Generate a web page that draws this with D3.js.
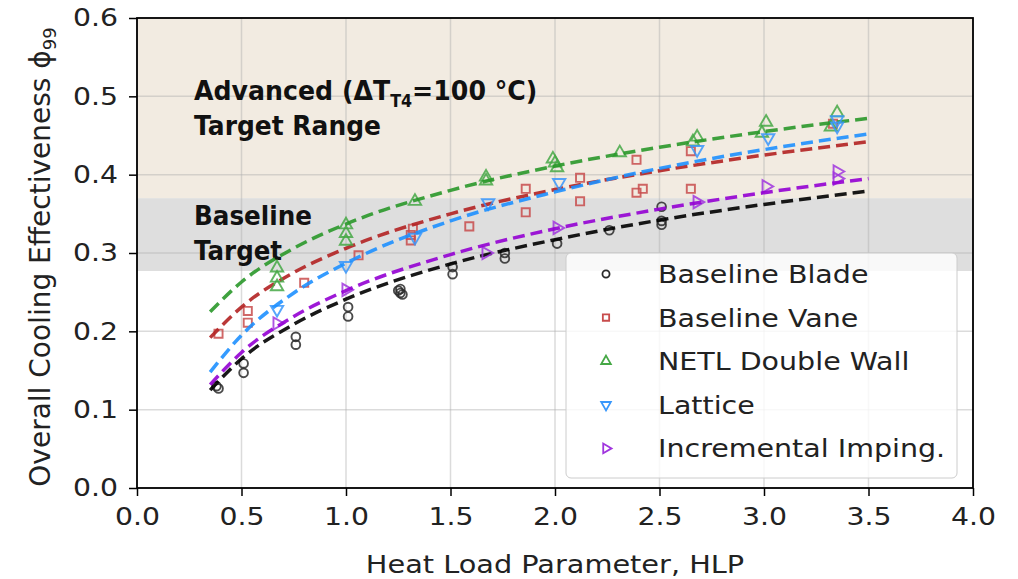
<!DOCTYPE html>
<html>
<head>
<meta charset="utf-8">
<script src="https://cdn.jsdelivr.net/npm/d3@7"></script>
<style>
  body { margin: 0; background: #fff; }
</style>
</head>
<body>
<div id="chart"></div>
<script>
// measured points
const bladeX = [0.38, 0.39, 0.51, 0.51, 0.76, 0.76, 1.01, 1.01, 1.25, 1.26, 1.26, 1.27, 1.51, 1.51, 1.76, 1.76, 2.01, 2.26, 2.51, 2.51, 2.51];
const bladeY = [0.130, 0.127, 0.159, 0.147, 0.193, 0.183, 0.231, 0.219, 0.252, 0.254, 0.249, 0.247, 0.282, 0.273, 0.300, 0.293, 0.312, 0.329, 0.359, 0.341, 0.336];

const vaneX = [0.39, 0.53, 0.53, 0.80, 1.06, 1.31, 1.31, 1.32, 1.59, 1.86, 1.86, 2.12, 2.12, 2.39, 2.39, 2.42, 2.65, 2.65, 3.33];
const vaneY = [0.197, 0.226, 0.211, 0.262, 0.297, 0.316, 0.323, 0.331, 0.334, 0.382, 0.352, 0.396, 0.366, 0.419, 0.377, 0.382, 0.430, 0.382, 0.465];

const netlX = [0.67, 0.67, 0.67, 1.00, 1.00, 1.00, 1.33, 1.67, 1.67, 1.99, 2.00, 2.01, 2.31, 2.66, 2.68, 2.99, 3.01, 3.32, 3.35];
const netlY = [0.281, 0.268, 0.257, 0.336, 0.325, 0.315, 0.366, 0.397, 0.392, 0.420, 0.415, 0.409, 0.428, 0.442, 0.448, 0.453, 0.467, 0.461, 0.479];

const latticeX = [0.67, 1.00, 1.33, 1.68, 2.02, 2.68, 3.02, 3.35, 3.35];
const latticeY = [0.228, 0.284, 0.320, 0.364, 0.390, 0.432, 0.447, 0.470, 0.462];

const impingX = [0.67, 1.00, 1.67, 2.01, 2.68, 3.01, 3.35, 3.35];
const impingY = [0.210, 0.253, 0.300, 0.332, 0.365, 0.385, 0.404, 0.395];

// trend lines
const fitX = [0.35, 0.5, 0.75, 1.0, 1.5, 2.0, 2.5, 3.0, 3.5];
const bladeFit = [0.125, 0.165, 0.209, 0.241, 0.286, 0.317, 0.342, 0.362, 0.379];
const vaneFit = [0.192, 0.231, 0.275, 0.306, 0.350, 0.381, 0.405, 0.425, 0.442];
const netlFit = [0.225, 0.263, 0.306, 0.337, 0.380, 0.411, 0.435, 0.455, 0.472];
const latticeFit = [0.148, 0.195, 0.249, 0.287, 0.341, 0.378, 0.408, 0.432, 0.452];
const impingFit = [0.132, 0.173, 0.219, 0.252, 0.298, 0.331, 0.356, 0.377, 0.395];

const seriesNames = ["Baseline Blade", "Baseline Vane", "NETL Double Wall", "Lattice", "Incremental Imping."];

// target bands
const advancedBand = [0.37, 0.6];
const baselineBand = [0.277, 0.37];

const xTicks = [0, 0.5, 1, 1.5, 2, 2.5, 3, 3.5, 4];
const yTicks = [0, 0.1, 0.2, 0.3, 0.4, 0.5, 0.6];

const series = [
    {name: seriesNames[0], xs: bladeX, ys: bladeY, fit: bladeFit, color: "#000000", mcolor: "#2a2a2a", shape: "circle"},
    {name: seriesNames[1], xs: vaneX, ys: vaneY, fit: vaneFit, color: "#b22222", mcolor: "#c84c4c", shape: "square"},
    {name: seriesNames[2], xs: netlX, ys: netlY, fit: netlFit, color: "#2a982a", mcolor: "#45a845", shape: "up"},
    {name: seriesNames[3], xs: latticeX, ys: latticeY, fit: latticeFit, color: "#1e90ff", mcolor: "#3897fb", shape: "down"},
    {name: seriesNames[4], xs: impingX, ys: impingY, fit: impingFit, color: "#9400d3", mcolor: "#a035de", shape: "right"}
];

const W = 1018, H = 579;
const plotL = 137, plotR = 973, plotT = 18, plotB = 488;
const FONT = "'DejaVu Sans', sans-serif";

// the figure is a little wider than tall, so stretch text sideways
function stretch(sel, k) {
    sel.each(function() {
        const w = this.getComputedTextLength();
        d3.select(this).attr("textLength", w * k).attr("lengthAdjust", "spacingAndGlyphs");
    });
}

const svg = d3.select("#chart").append("svg")
    .attr("width", W)
    .attr("height", H);

const x = d3.scaleLinear().domain([0, 4]).range([plotL, plotR]);
const y = d3.scaleLinear().domain([0, 0.6]).range([plotB, plotT]);

// bands
svg.append("rect")
    .attr("x", plotL).attr("width", plotR - plotL)
    .attr("y", y(advancedBand[1])).attr("height", y(advancedBand[0]) - y(advancedBand[1]))
    .attr("fill", "#f2ebe1");
svg.append("rect")
    .attr("x", plotL).attr("width", plotR - plotL)
    .attr("y", y(baselineBand[1])).attr("height", y(baselineBand[0]) - y(baselineBand[1]))
    .attr("fill", "#dedede");

// grid
svg.append("g")
    .selectAll("line")
    .data(xTicks)
    .enter().append("line")
    .attr("x1", d => x(d)).attr("x2", d => x(d))
    .attr("y1", plotT).attr("y2", plotB)
    .attr("stroke", "#b0b0b0").attr("stroke-opacity", 0.45).attr("stroke-width", 1.5);
svg.append("g")
    .selectAll("line")
    .data(yTicks)
    .enter().append("line")
    .attr("x1", plotL).attr("x2", plotR)
    .attr("y1", d => y(d)).attr("y2", d => y(d))
    .attr("stroke", "#b0b0b0").attr("stroke-opacity", 0.45).attr("stroke-width", 1.5);

// annotations
const note = svg.append("g")
    .style("font-family", FONT)
    .style("font-weight", "bold")
    .style("font-size", "27px")
    .attr("fill", "#111");

const adv = note.append("text").attr("transform", "translate(194,100) scale(0.935,1)");
adv.append("tspan").text("Advanced (ΔT");
adv.append("tspan").style("font-size", "17px").attr("dy", 7).text("T4");
adv.append("tspan").attr("dy", -7).text("=100 °C)");
note.append("text").attr("x", 194).attr("y", 135).text("Target Range")
    .attr("textLength", 187).attr("lengthAdjust", "spacingAndGlyphs");
note.append("text").attr("x", 194).attr("y", 225).text("Baseline")
    .attr("textLength", 118).attr("lengthAdjust", "spacingAndGlyphs");
note.append("text").attr("x", 194).attr("y", 260).text("Target")
    .attr("textLength", 88).attr("lengthAdjust", "spacingAndGlyphs");

// markers
function symbolPath(shape, size) {
    if (shape === "circle") return d3.symbol().type(d3.symbolCircle).size(size)();
    if (shape === "square") return d3.symbol().type(d3.symbolSquare).size(size)();
    return d3.symbol().type(d3.symbolTriangle).size(size)();
}
function shapeRotate(shape) {
    if (shape === "down") return 180;
    if (shape === "right") return 90;
    return 0;
}

const line = d3.line()
    .x((d, i) => x(fitX[i]))
    .y(d => y(d))
    .curve(d3.curveMonotoneX);

series.forEach(s => {
    svg.append("g")
        .selectAll("path")
        .data(s.xs.map((v, i) => [v, s.ys[i]]))
        .enter().append("path")
        .attr("d", symbolPath(s.shape, s.shape === "circle" ? 60 : 66))
        .attr("transform", d => `translate(${x(d[0])},${y(d[1])}) rotate(${shapeRotate(s.shape)})`)
        .attr("fill", "none")
        .attr("stroke", s.mcolor)
        .attr("stroke-opacity", 0.85)
        .attr("stroke-width", 1.9);

    svg.append("path")
        .datum(s.fit)
        .attr("fill", "none")
        .attr("stroke", s.color)
        .attr("stroke-width", 3.5)
        .attr("stroke-dasharray", "12,6")
        .attr("opacity", 0.9)
        .attr("d", line);
});

// axes
const xAxis = svg.append("g")
    .attr("transform", `translate(0,${plotB})`)
    .call(d3.axisBottom(x).tickValues(xTicks).tickFormat(d3.format(".1f")).tickSizeInner(8).tickSizeOuter(0).tickPadding(12));
const yAxis = svg.append("g")
    .attr("transform", `translate(${plotL},0)`)
    .call(d3.axisLeft(y).tickValues(yTicks).tickFormat(d3.format(".1f")).tickSizeInner(8).tickSizeOuter(0).tickPadding(11));
[xAxis, yAxis].forEach(a => {
    a.select(".domain").remove();
    a.selectAll(".tick line").attr("stroke", "#000").attr("stroke-width", 1.5);
    a.selectAll(".tick text")
        .style("font-family", FONT)
        .style("font-size", "24px")
        .attr("fill", "#222");
    stretch(a.selectAll(".tick text"), 1.18);
});

// frame
svg.append("rect")
    .attr("x", plotL).attr("y", plotT)
    .attr("width", plotR - plotL).attr("height", plotB - plotT)
    .attr("fill", "none")
    .attr("stroke", "#000")
    .attr("stroke-width", 1.8);

// legend
const lg = svg.append("g");
lg.append("rect")
    .attr("x", 566).attr("y", 253)
    .attr("width", 391).attr("height", 225)
    .attr("rx", 5)
    .attr("fill", "#fff").attr("fill-opacity", 0.8)
    .attr("stroke", "#cccccc");
series.forEach((s, i) => {
    const cy = 274 + i * 43.6;
    lg.append("path")
        .attr("d", symbolPath(s.shape, 40))
        .attr("transform", `translate(606,${cy}) rotate(${shapeRotate(s.shape)})`)
        .attr("fill", "none")
        .attr("stroke", s.mcolor)
        .attr("stroke-width", 1.8);
    lg.append("text")
        .attr("x", 658).attr("y", cy)
        .attr("dy", "0.36em")
        .style("font-family", FONT)
        .style("font-size", "25px")
        .attr("fill", "#222")
        .text(s.name);
});
stretch(lg.selectAll("text"), 1.14);

// axis titles
const xl = svg.append("text")
    .attr("x", 555)
    .attr("y", 573)
    .attr("text-anchor", "middle")
    .style("font-family", FONT)
    .style("font-size", "25px")
    .attr("fill", "#222")
    .text("Heat Load Parameter, HLP");
stretch(xl, 1.15);

const yl = svg.append("text")
    .attr("transform", `translate(50,${(plotT + plotB) / 2 + 4}) rotate(-90)`)
    .attr("text-anchor", "middle")
    .style("font-family", FONT)
    .style("font-size", "28px")
    .attr("fill", "#222");
yl.append("tspan").text("Overall Cooling Effectiveness ϕ");
yl.append("tspan").style("font-size", "18px").attr("dy", 6).text("99");
</script>
</body>
</html>
